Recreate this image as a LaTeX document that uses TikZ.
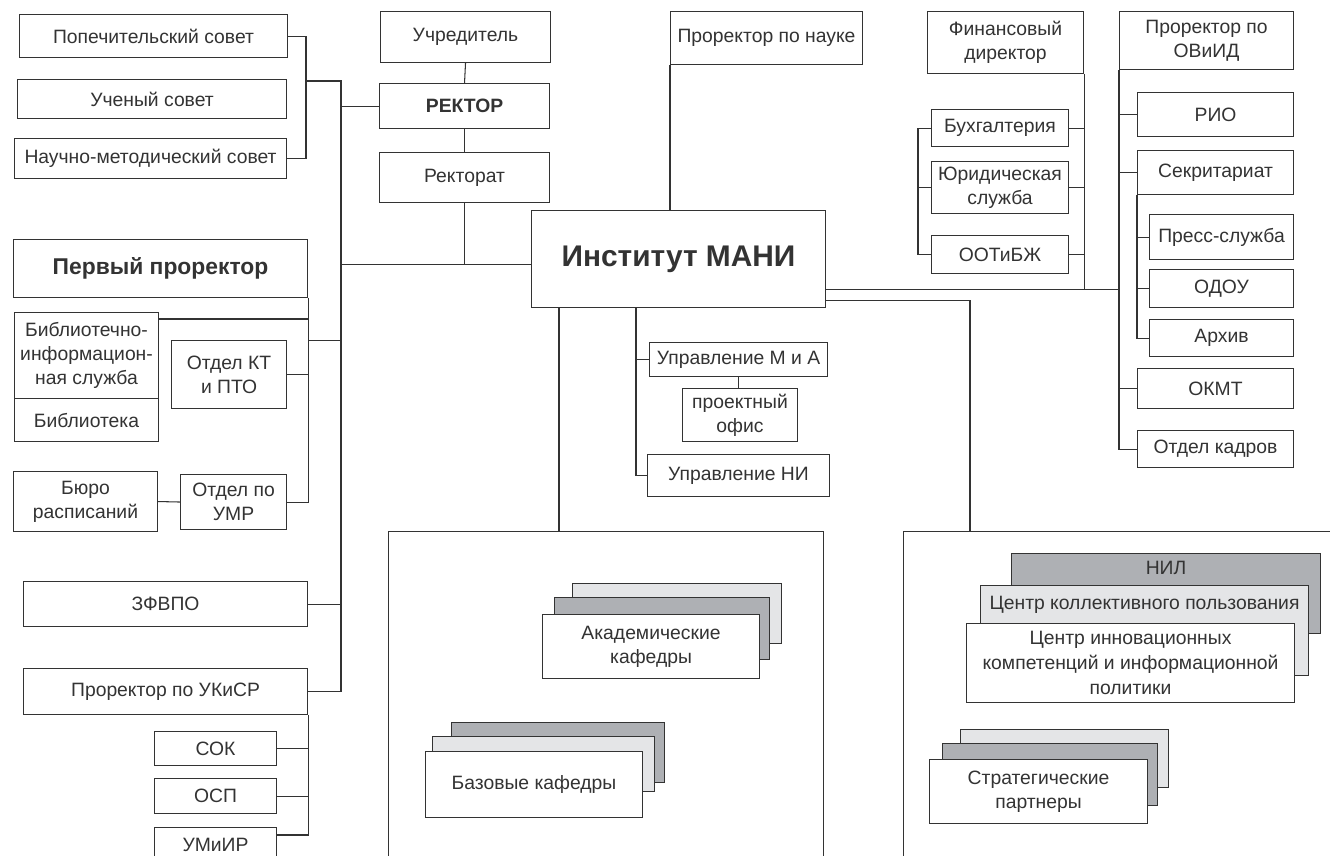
\documentclass[tikz,border=0pt]{standalone}
\usepackage{fontspec}
\setmainfont{Liberation Sans}
\usepackage{xcolor}
\usepackage{tikz}
\usetikzlibrary{positioning}

\definecolor{darkg}{HTML}{AEB0B4}
\definecolor{lightg}{HTML}{E4E5E7}

\begin{document}
\begin{tikzpicture}[x=0.02cm, y=-0.02cm, line width=0.6pt, color=black!80,
	box/.style={draw, fill=white, anchor=north west, align=center, inner sep=1pt, font=\fontsize{11}{13.5}\selectfont},
	sz/.style 2 args={minimum width=#1*0.02cm, minimum height=#2*0.02cm},
	lbl/.style={anchor=north, inner sep=1pt, font=\fontsize{11}{13.5}\selectfont}]
	\useasboundingbox (0,0) rectangle (1330,856);
	\clip (0,0) rectangle (1330,856);

	% councils and rector
	\node[box, sz={268}{43}] (popech) at (19,14) {Попечительский совет};
	\node[box, sz={269}{39}] (uchsov) at (17,79) {Ученый совет};
	\node[box, sz={272}{40}] (nms) at (14,138) {Научно-методический совет};
	\node[box, sz={170}{51}] (uchr) at (380,11) {Учредитель};
	\node[box, sz={170}{45}, font=\bfseries\fontsize{11}{13}\selectfont] (rektor) at (379,83) {РЕКТОР};
	\node[box, sz={170}{50}] (rektorat) at (379,152) {Ректорат};
	\node[box, sz={294}{97}, font=\bfseries\fontsize{17}{20}\selectfont] (inst) at (531,210) {Институт МАНИ};
	\node[box, sz={192}{53}] (nauka) at (670,11) {Проректор по науке};

	% first vice-rector
	\node[box, sz={294}{58}, font=\bfseries\fontsize{13}{15}\selectfont] (perv) at (13,239) {Первый проректор};
	\node[box, sz={144}{86}] (bis) at (14,312) {Библиотечно-\\информацион-\\ная служба};
	\node[box, sz={144}{43}] (bibl) at (14,398) {Библиотека};
	\node[box, sz={115}{68}] (kt) at (171,340) {Отдел КТ\\и ПТО};
	\node[box, sz={144}{60}] (buro) at (13,471) {Бюро\\расписаний};
	\node[box, sz={106}{55}] (umr) at (180,474) {Отдел по\\УМР};
	\node[box, sz={284}{45}] (zfvpo) at (23,581) {ЗФВПО};
	\node[box, sz={284}{46}] (ukisr) at (23,668) {Проректор по УКиСР};
	\node[box, sz={122}{34}] (sok) at (154,731) {СОК};
	\node[box, sz={122}{35}] (osp) at (154,778) {ОСП};
	\node[box, sz={122}{35}] (umiir) at (154,827) {УМиИР};

	% departments under the institute
	\node[box, sz={178}{34}] (umia) at (649,342) {Управление М и А};
	\node[box, sz={115}{53}] (proekt) at (682,388) {проектный\\офис};
	\node[box, sz={182}{42}] (uni) at (647,454) {Управление НИ};

	% finance
	\node[box, sz={156}{62}] (fin) at (927,11) {Финансовый\\директор};
	\node[box, sz={137}{37}] (buh) at (931,109) {Бухгалтерия};
	\node[box, sz={137}{52}] (yur) at (931,161) {Юридическая\\служба};
	\node[box, sz={137}{38}] (ootibzh) at (931,235) {ООТиБЖ};

	% OViID
	\node[box, sz={174}{58}] (ovid) at (1119,11) {Проректор по\\ОВиИД};
	\node[box, sz={156}{44}] (rio) at (1137,92) {РИО};
	\node[box, sz={156}{44}] (sekr) at (1137,150) {Секритариат};
	\node[box, sz={144}{45}] (press) at (1149,214) {Пресс-служба};
	\node[box, sz={144}{38}] (odou) at (1149,269) {ОДОУ};
	\node[box, sz={144}{37}] (arhiv) at (1149,319) {Архив};
	\node[box, sz={156}{40}] (okmt) at (1137,368) {ОКМТ};
	\node[box, sz={156}{37}] (kadry) at (1137,430) {Отдел кадров};

	% lower frames
	\node[box, sz={435}{360}] (lframe) at (388,531) {};
	\node[box, sz={460}{360}] (rframe) at (903,531) {};

	\node[box, fill=lightg, sz={209}{60}] (akad3) at (572,583) {};
	\node[box, fill=darkg, sz={215}{62}] (akad2) at (554,597) {};
	\node[box, sz={217}{64}] (akad) at (542,614) {Академические\\кафедры};

	\node[box, fill=darkg, sz={213}{60}] (baz3) at (451,722) {};
	\node[box, fill=lightg, sz={222}{55}] (baz2) at (432,736) {};
	\node[box, sz={217}{66}] (baz) at (425,751) {Базовые кафедры};

	\node[box, fill=darkg, sz={309}{80}] (nil) at (1011,553) {};
	\node[lbl, below=0.12cm of nil.north] (niltxt) {НИЛ};
	\node[box, fill=lightg, sz={328}{90}] (ckp) at (980,585) {};
	\node[lbl, below=0.18cm of ckp.north] (ckptxt) {Центр коллективного пользования};
	\node[box, sz={328}{79}, font=\fontsize{11}{14}\selectfont] (cik) at (966,623) {Центр инновационных\\компетенций и информационной\\политики};

	\node[box, fill=lightg, sz={208}{58}] (strat3) at (960,729) {};
	\node[box, fill=darkg, sz={215}{62}] (strat2) at (942,743) {};
	\node[box, sz={218}{64}] (strat) at (929,759) {Стратегические\\партнеры};

	% connectors, left side
	\coordinate (sovj) at (306,81);
	\coordinate (trunk) at (341,81);
	\draw (popech.east) -| (sovj) |- (nms.east);
	\draw (sovj) -- (trunk) -- (trunk |- ukisr.east);
	\draw (rektor.west) -- (rektor.west -| trunk);
	\draw (uchr.south) -- (rektor.north);
	\draw (rektor.south) -- (rektorat.north);
	\coordinate (instw) at ([yshift=-0.1cm]inst.west);
	\draw (trunk |- instw) -- (instw);
	\draw (rektorat.south) -- (rektorat.south |- instw);
	\draw (nauka.south west) -- (nauka.south west |- inst.north);

	\coordinate (p1) at ([yshift=-0.84cm]perv.south east);
	\coordinate (b1) at ([yshift=-0.14cm]bis.north east);
	\draw (p1) -- (p1 -| trunk);
	\draw (perv.south east) -- (perv.south east |- umr.east) -- (umr.east);
	\draw (b1) -- (b1 -| perv.south east);
	\draw (kt.east) -- (kt.east -| perv.south east);
	\draw (buro.east) -- (umr.west);
	\draw (zfvpo.east) -- (zfvpo.east -| trunk);
	\draw (ukisr.east) -- (ukisr.east -| trunk);

	\coordinate (u1) at ([yshift=-0.16cm]umiir.north east);
	\draw (ukisr.south east) |- (u1);
	\draw (sok.east) -- (sok.east -| ukisr.south east);
	\draw (osp.east) -- (osp.east -| ukisr.south east);

	% connectors, below the institute
	\coordinate (i1) at ([xshift=0.56cm]inst.south west);
	\coordinate (i2) at ([xshift=2.1cm]inst.south west);
	\draw (i1) -- (i1 |- lframe.north);
	\draw (i2) |- (uni.west);
	\draw (i2 |- umia.west) -- (umia.west);
	\draw (umia.south) -- (umia.south |- proekt.north);

	% connectors, right side
	\coordinate (i3) at ([yshift=0.38cm]inst.south east);
	\coordinate (i4) at ([yshift=0.16cm]inst.south east);
	\coordinate (r1) at ([xshift=1.34cm]rframe.north west);
	\draw (i3) -- (i3 -| ovid.south west);
	\draw (i4) -| (r1);
	\draw (fin.south east) -- (fin.south east |- i3);
	\draw (buh.east) -- (buh.east -| fin.south east);
	\draw (yur.east) -- (yur.east -| fin.south east);
	\draw (ootibzh.east) -- (ootibzh.east -| fin.south east);
	\draw (buh.west) -| ([xshift=-0.26cm]ootibzh.west) -- (ootibzh.west);
	\draw (yur.west) -- ++(-13,0);

	\draw (ovid.south west) |- (kadry.west);
	\draw (rio.west) -- (rio.west -| ovid.south west);
	\draw (sekr.west) -- (sekr.west -| ovid.south west);
	\draw (okmt.west) -- (okmt.west -| ovid.south west);
	\draw (sekr.south west) |- (arhiv.west);
	\draw (press.west) -- (press.west -| sekr.south west);
	\draw (odou.west) -- (odou.west -| sekr.south west);
\end{tikzpicture}
\end{document}
